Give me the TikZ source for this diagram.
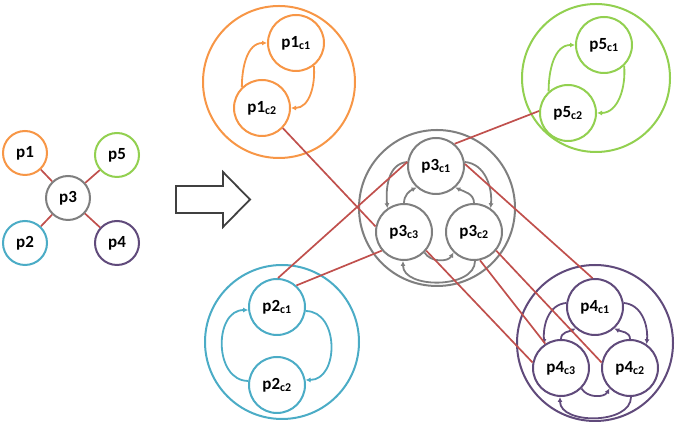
\documentclass[tikz,border=0pt]{standalone}
\usepackage{fontspec}
\setmainfont{Carlito}
\usepackage{tikz}
\usetikzlibrary{arrows.meta}

\definecolor{clorange}{HTML}{F79646}
\definecolor{clgreen}{HTML}{92D050}
\definecolor{clblue}{HTML}{4BACC6}
\definecolor{clpurple}{HTML}{604A7B}
\definecolor{clgray}{HTML}{7F7F7F}
\definecolor{clred}{HTML}{C0504D}

\tikzset{
    proc/.style={circle, draw, fill=white, line width=2pt, minimum size=44pt, inner sep=0pt,
        font=\fontsize{17}{19}\selectfont\bfseries},
    sub/.style={proc, minimum size=56pt},
    grp/.style={circle, draw, line width=2pt, minimum size=154pt, inner sep=0pt},
    link/.style={draw=clred, line width=1.7pt},
    flow/.style={-{Latex[length=5pt,width=5pt]}, line width=1.8pt},
}

\begin{document}
\begin{tikzpicture}[x=1pt,y=1pt]
    \useasboundingbox (0,0) rectangle (675,425);

    % small process graph
    \foreach \n/\x/\y/\col in {p1/25/272/clorange, p5/117/270/clgreen, p3/68/227/clgray,
                               p2/25/182/clblue, p4/117/182/clpurple}
        \node[proc, draw=\col] (\n) at (\x,\y) {\n};
    \foreach \n in {p1,p2,p4,p5} \draw[link] (p3) -- (\n);

    % block arrow
    \draw[line width=1.8pt, draw=black!75, fill=white]
        (176,212) -- (223,212) -- (223,198) -- (250,225.5) -- (223,253) -- (223,239) -- (176,239) -- cycle;

    % groups
    \node[grp, draw=clorange, minimum size=152pt] (g1) at (279,343) {};
    \node[grp, draw=clgreen, minimum size=148pt] (g5) at (596,347) {};
    \node[grp, draw=clgray, minimum size=156pt] (g3) at (437,217) {};
    \node[grp, draw=clpurple, minimum size=156pt] (g4) at (595,82) {};
    \node[grp, draw=clblue] (g2) at (282,83) {};

    % components
    \node[sub, draw=clorange] (p1c1) at (296,382) {p1\textsubscript{c1}};
    \node[sub, draw=clorange] (p1c2) at (262,317) {p1\textsubscript{c2}};
    \node[sub, draw=clgreen] (p5c1) at (604,380) {p5\textsubscript{c1}};
    \node[sub, draw=clgreen] (p5c2) at (568,312) {p5\textsubscript{c2}};
    \node[sub, draw=clgray] (p3c1) at (436,259) {p3\textsubscript{c1}};
    \node[sub, draw=clgray] (p3c3) at (404,193) {p3\textsubscript{c3}};
    \node[sub, draw=clgray] (p3c2) at (474,193) {p3\textsubscript{c2}};
    \node[sub, draw=clpurple] (p4c1) at (595,118) {p4\textsubscript{c1}};
    \node[sub, draw=clpurple] (p4c3) at (561,57) {p4\textsubscript{c3}};
    \node[sub, draw=clpurple] (p4c2) at (630,57) {p4\textsubscript{c2}};
    \node[sub, draw=clblue] (p2c1) at (277,118) {p2\textsubscript{c1}};
    \node[sub, draw=clblue] (p2c2) at (277,40) {p2\textsubscript{c2}};

    % flows inside two-component groups
    \draw[flow, clorange] (p1c2.134) to[out=90,in=180] (p1c1.180);
    \draw[flow, clorange] (p1c1.-52) to[out=-85,in=0] (p1c2.0);
    \draw[flow, clgreen] (p5c2.132) to[out=90,in=180] (p5c1.180);
    \draw[flow, clgreen] (p5c1.-46) to[out=-85,in=0] (p5c2.0);
    \draw[flow, clblue] (p2c2.172) to[out=180,in=180,looseness=1.25] (p2c1.186);
    \draw[flow, clblue] (p2c1.-8) to[out=0,in=0,looseness=1.25] (p2c2.10);

    % flows inside three-component groups
    \foreach \n/\col in {p3/clgray, p4/clpurple} {
        \draw[flow, \col] (\n c1.172) to[out=185,in=95] (\n c3.125);
        \draw[flow, \col] (\n c3.90) to[out=90,in=205] (\n c1.228);
        \draw[flow, \col] (\n c1.8) to[out=-5,in=85] (\n c2.55);
        \draw[flow, \col] (\n c2.90) to[out=90,in=-25] (\n c1.-48);
        \draw[flow, \col] (\n c3.-45) to[out=-60,in=-120] (\n c2.225);
        \draw[flow, \col] (\n c2.-88) to[out=-90,in=-90] (\n c3.-92);
    }

    % links between components
    \draw[link] (p1c2.-44) -- (p3c3.169);
    \draw[link] (p2c1.88) -- (p3c1.172);
    \draw[link] (p2c1.48) -- (p3c3.220);
    \draw[link] (p3c1.50) -- (p5c2.176);
    \draw[link] (p3c1.4) -- (p4c1.95);
    \draw[link] (p3c3.-40) -- (p4c3.169);
    \draw[link] (p3c2.-78) -- (p4c3.123);
    \draw[link] (p3c2.-40) -- (p4c2.169);
\end{tikzpicture}
\end{document}
